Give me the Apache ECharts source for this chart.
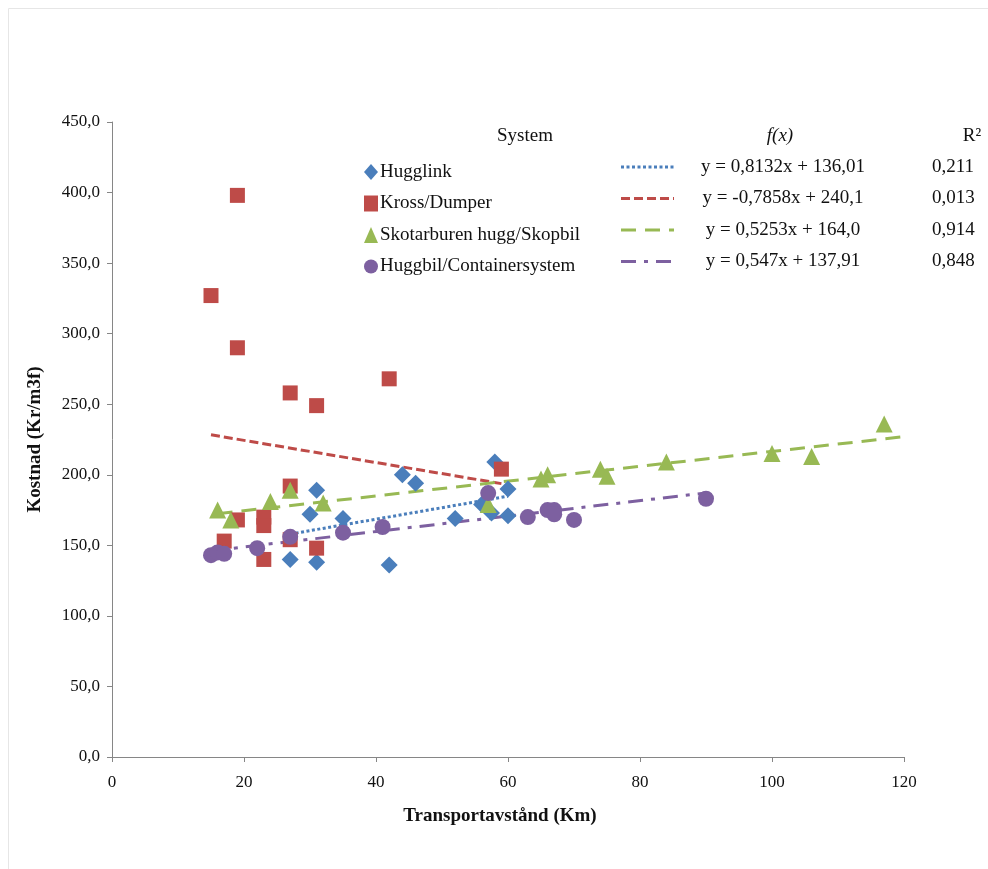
<!DOCTYPE html>
<html>
<head>
<meta charset="utf-8">
<title>Kostnad vs transportavstånd</title>
<script src="https://cdn.jsdelivr.net/npm/echarts@6/dist/echarts.min.js"></script>
<style>
  html, body { margin: 0; padding: 0; background: #fff; }
  #chart { width: 988px; height: 869px; }
</style>
</head>
<body>
<div id="chart"></div>
<script>
// system names (legend order)
const systems = ['Hugglink', 'Kross/Dumper', 'Skotarburen hugg/Skopbil', 'Huggbil/Containersystem'];

// [transportavstånd km, kostnad kr/m3f]
const hugglink = [[27, 140], [31, 138], [31, 189], [30, 172], [35, 169], [42, 136], [44, 200],
  [46, 194], [52, 169], [56, 179], [57.5, 173], [58, 209], [60, 190], [60, 171]];
const krossDumper = [[15, 327], [19, 398], [19, 290], [27, 258], [31, 249], [42, 268], [59, 204],
  [27, 192], [19, 168], [23, 170], [23, 164], [17, 153], [27, 154], [31, 148], [23, 140]];
const skotarburen = [[16, 175], [18, 168], [24, 181], [27, 189], [32, 180], [57, 179], [65, 197],
  [66, 200], [74, 204], [75, 199], [84, 209], [100, 215], [106, 213], [117, 236]];
const huggbil = [[15, 143], [16, 145], [17, 144], [22, 148], [27, 156], [35, 159], [41, 163],
  [57, 187], [63, 170], [66, 175], [67, 175], [67, 172], [70, 168], [90, 183]];

// trendlines: y = k*x + m, drawn between xFrom and xTo
const slopes = [0.8132, -0.7858, 0.5253, 0.547];
const intercepts = [136.01, 240.1, 164.0, 137.91];
const xFrom = [27, 15, 16, 15];
const xTo = [60, 59, 120, 90];
const equations = ['y = 0,8132x + 136,01', 'y = -0,7858x + 240,1', 'y = 0,5253x + 164,0', 'y = 0,547x + 137,91'];
const rSquared = ['0,211', '0,013', '0,914', '0,848'];

const colors = ['#4a7ebb', '#be4b48', '#98b954', '#7d60a0'];
const symbols = ['diamond', 'rect', 'triangle', 'circle'];
const symbolSizes = [17, 15, 17, 16];
const dashes = [[3, 2.5], [9, 4], [15, 9], [15, 8, 4, 8]];
const serif = '"Liberation Serif", "DejaVu Serif", serif';

const chart = echarts.init(document.getElementById('chart'));
const pointSets = [hugglink, krossDumper, skotarburen, huggbil];

let series = [];
// trendlines first, markers drawn above them
systems.forEach((name, i) => {
  series.push({
    name: 'trend ' + name,
    type: 'line',
    symbol: 'none',
    silent: true,
    z: 2,
    data: [[xFrom[i], slopes[i] * xFrom[i] + intercepts[i]], [xTo[i], slopes[i] * xTo[i] + intercepts[i]]],
    lineStyle: { color: colors[i], width: 3, type: dashes[i], cap: 'butt' }
  });
});
systems.forEach((name, i) => {
  series.push({
    name: name,
    type: 'scatter',
    symbol: symbols[i],
    symbolSize: symbolSizes[i],
    z: 3 + i,
    data: pointSets[i],
    itemStyle: { color: colors[i], opacity: 1 }
  });
});

// legend header, line samples and the f(x) / R² columns
const rowY = [167, 198.5, 230, 261.5];
const txt = (x, y, text, align, style) => ({
  type: 'text', x: x, y: y,
  style: { text: text, font: (style || '') + ' 19px ' + serif, fill: '#111', align: align, verticalAlign: 'middle' }
});
let graphics = [
  { type: 'rect', shape: { x: 8.5, y: 8.5, width: 1000, height: 900 }, style: { fill: 'none', stroke: '#e6e6e6', lineWidth: 1 }, z: -1 },
  txt(525, 136, 'System', 'center'),
  txt(780, 136, 'f(x)', 'center', 'italic'),
  txt(972, 136, 'R²', 'center')
];
equations.forEach((eq, i) => {
  graphics.push({
    type: 'line',
    shape: { x1: 621, y1: rowY[i], x2: 674, y2: rowY[i] },
    style: { stroke: colors[i], lineWidth: 3, lineDash: dashes[i] }
  });
  graphics.push(txt(783, rowY[i], eq, 'center'));
  graphics.push(txt(932, rowY[i], rSquared[i], 'left'));
});

const option = {
  backgroundColor: '#fff',
  animation: false,
  grid: { left: 112, right: 84, top: 122, bottom: 112 },
  legend: {
    data: systems,
    orient: 'vertical',
    left: 359,
    top: 157,
    itemGap: 11.5,
    itemWidth: 14,
    itemHeight: 16,
    itemStyle: { borderWidth: 0 },
    textStyle: { fontFamily: serif, fontSize: 19, lineHeight: 20, color: '#111', padding: [0, 0, 0, -3] },
    selectedMode: false
  },
  xAxis: {
    type: 'value',
    min: 0,
    max: 120,
    interval: 20,
    name: 'Transportavstånd (Km)',
    nameLocation: 'middle',
    nameGap: 50,
    nameTextStyle: { fontFamily: serif, fontSize: 19, fontWeight: 'bold', color: '#111', padding: [0, 16, 0, 0] },
    axisLine: { show: true, lineStyle: { color: '#868686', width: 1 } },
    axisTick: { show: true, length: 5, lineStyle: { color: '#868686' } },
    splitLine: { show: false },
    axisLabel: { fontFamily: serif, fontSize: 17, color: '#111', margin: 17 }
  },
  yAxis: {
    type: 'value',
    min: 0,
    max: 450,
    interval: 50,
    name: 'Kostnad (Kr/m3f)',
    nameLocation: 'middle',
    nameGap: 67,
    nameTextStyle: { fontFamily: serif, fontSize: 19, fontWeight: 'bold', color: '#111' },
    axisLine: { show: true, lineStyle: { color: '#868686', width: 1 } },
    axisTick: { show: true, length: 5, lineStyle: { color: '#868686' } },
    splitLine: { show: false },
    axisLabel: {
      fontFamily: serif, fontSize: 17, color: '#111', margin: 12,
      formatter: v => v.toFixed(1).replace('.', ',')
    }
  },
  graphic: graphics,
  series: series
};

chart.setOption(option);
</script>
</body>
</html>
